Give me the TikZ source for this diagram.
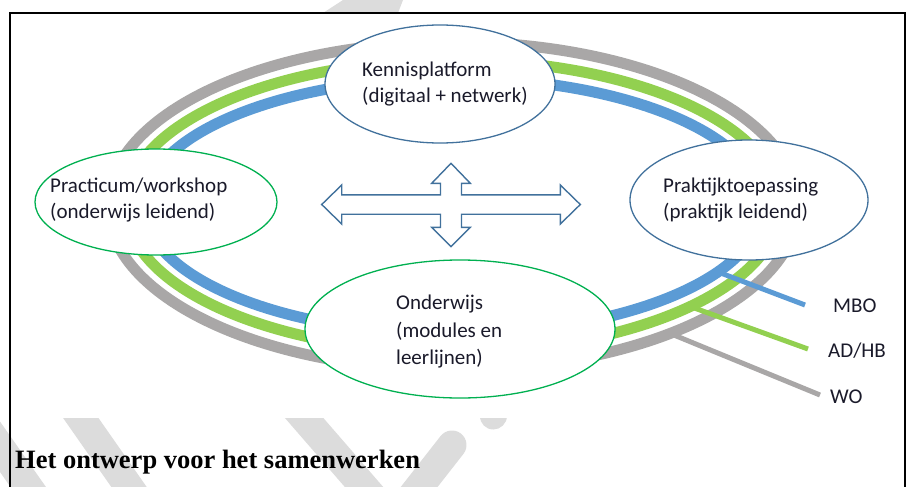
\documentclass[tikz,border=0pt]{standalone}
\usepackage{fontspec}
\setmainfont{Carlito}
\newfontfamily\capfont{Liberation Serif}
\usetikzlibrary{shapes.geometric,calc}
\definecolor{ringgray}{HTML}{A9A7A7}
\definecolor{ringgreen}{HTML}{92D050}
\definecolor{ringblue}{HTML}{5B9BD5}
\definecolor{edgeblue}{HTML}{41719C}
\definecolor{edgegreen}{HTML}{00B050}
\definecolor{wmgray}{HTML}{DCDCDC}
\definecolor{txt}{HTML}{1A1A2A}
\begin{document}
\begin{tikzpicture}[x=1pt,y=-1pt,
  ring/.style={line width=11pt},
  bubble/.style={ellipse, draw, fill=white, line width=1.3pt, inner sep=0pt},
  bluebubble/.style={bubble, draw=edgeblue},
  greenbubble/.style={bubble, draw=edgegreen},
  bubbletext/.style={align=left, anchor=west, text=txt, font=\fontsize{21}{26}\selectfont, inner sep=0pt},
  legendline/.style={line width=5pt},
  legendtext/.style={anchor=base west, text=txt, font=\fontsize{21}{25}\selectfont, inner sep=0pt},
  crossarrow/.style={draw=edgeblue, line width=1.4pt, line join=miter, fill=white},
  wm/.style={wmgray, line width=29pt, line cap=round},
  frameline/.style={black, line width=2.5pt}]
\useasboundingbox (0,0) rectangle (910,487);

% faint watermark strokes
\begin{scope}
  \clip (0,418) rectangle (910,487);
  \draw[wm] (-30,404) -- (50,518);
  \draw[wm] (71,404) -- (150,517);
  \draw[wm] (292,404) -- (384,510);
  \draw[wm] (452,445) -- (380,537);
  \draw[wm, line width=27pt] (493,380) -- (493,416);
\end{scope}
\fill[wmgray] (343,0) -- (403,0) -- (398,13) -- (323,13) -- cycle;

% frame
\draw[frameline] (10,487) -- (10,13) -- (905,13) -- (905,487);

% rings
\coordinate (rc) at (453,206);
\draw[ring, ringgray]  (rc) ellipse [x radius=345, y radius=164];
\draw[ring, ringgreen] (rc) ellipse [x radius=327, y radius=146];
\draw[ring, ringblue]  (rc) ellipse [x radius=309, y radius=128];

% legend connectors
\path (rc) ++(31:309 and 128) coordinate (mboS);
\path (rc) ++(43.5:327 and 146) coordinate (adS);
\path (rc) ++(51:345 and 164) coordinate (woS);
\node[legendtext] (mbo) at (833,312) {MBO};
\node[legendtext] (adhb) at (828,357) {AD/HB};
\node[legendtext] (wo) at (830,403) {WO};
\coordinate (mboE) at (805,305);
\coordinate (adE) at (808,349);
\coordinate (woE) at (820,395);
\draw[legendline, ringblue]  (mboS) -- (mboE);
\draw[legendline, ringgreen] (adS) -- (adE);
\draw[legendline, ringgray]  (woS) -- (woE);

% bubbles
\node[bluebubble, minimum width=230pt, minimum height=118pt] (kp) at (440,84) {};
\node[greenbubble, minimum width=242pt, minimum height=106pt] (pw) at (156,202) {};
\node[bluebubble, minimum width=238pt, minimum height=120pt] (pt) at (749,200) {};
\node[greenbubble, minimum width=310pt, minimum height=138pt] (ow) at (460,329) {};

\node[bubbletext] (kpText) at (362,84) {Kennisplatform\\(digitaal + netwerk)};
\node[bubbletext] (pwText) at (50,200) {Practicum/workshop\\(onderwijs leidend)};
\node[bubbletext] (ptText) at (663,200) {Praktijktoepassing\\(praktijk leidend)};
\node[bubbletext, font=\fontsize{21}{27.5}\selectfont] (owText) at (396,332) {Onderwijs\\(modules en\\leerlijnen)};

% four-way arrow
\draw[crossarrow, shift={(451,204.5)}]
  (-129.3,0) -- (-109.3,-19.5) -- (-109.3,-9.7) -- (-10.5,-9.7) -- (-10.5,-21.2)
  -- (-19.3,-21.2) -- (0,-41.2) -- (19.3,-21.2) -- (10.5,-21.2) -- (10.5,-9.7)
  -- (109.3,-9.7) -- (109.3,-19.5) -- (129.3,0) -- (109.3,19.5) -- (109.3,9.7)
  -- (10.5,9.7) -- (10.5,22.8) -- (19.3,22.8) -- (0,42.2) -- (-19.3,22.8)
  -- (-10.5,22.8) -- (-10.5,9.7) -- (-109.3,9.7) -- (-109.3,19.5) -- cycle;

% caption
\node[anchor=base west, inner sep=0pt, font=\capfont\bfseries\fontsize{26.5}{30}\selectfont] (caption) at (15,468) {Het ontwerp voor het samenwerken};
\end{tikzpicture}
\end{document}
